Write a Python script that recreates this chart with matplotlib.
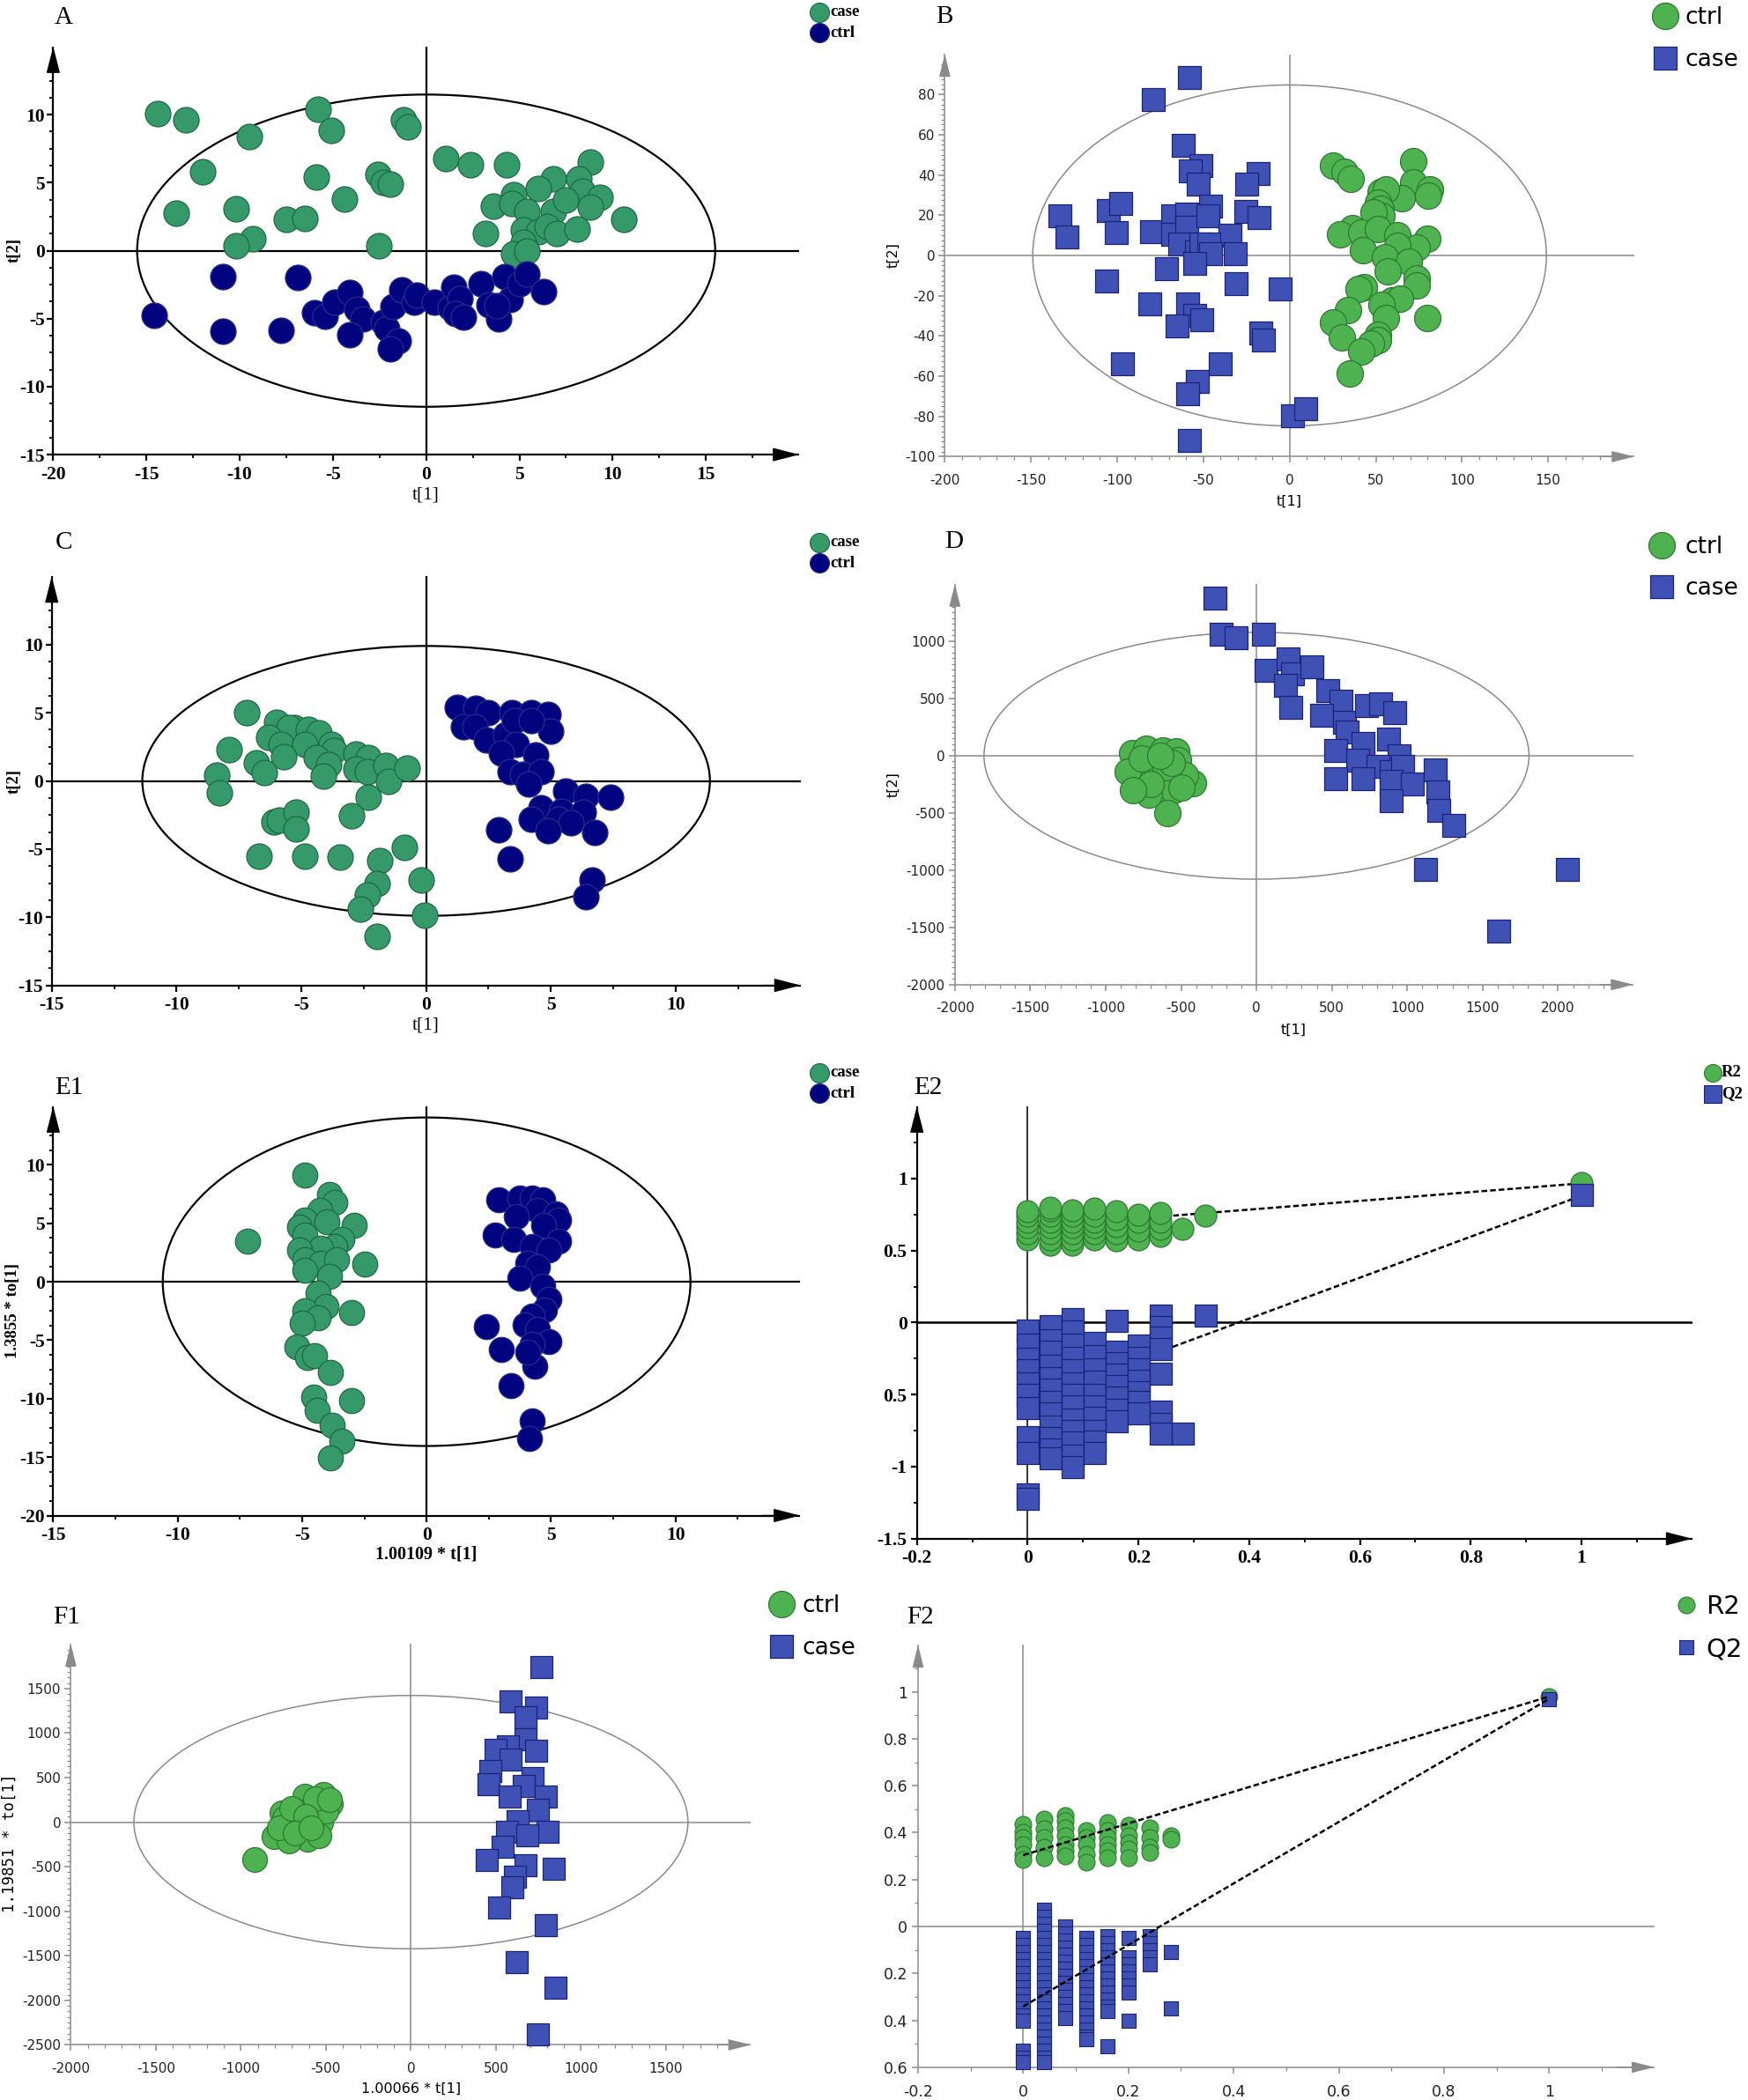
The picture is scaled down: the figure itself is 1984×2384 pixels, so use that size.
import numpy as np
import matplotlib
matplotlib.use("Agg")
import matplotlib.pyplot as plt
from matplotlib.patches import Ellipse
from matplotlib.ticker import FixedLocator

plt.rcParams['axes.unicode_minus'] = False

W, H, DPI = 1984, 2384, 100

# ---------------- data ----------------
# Panel A  (t[1], t[2])
A_case = [(-14.4, 10.05), (-12.9, 9.6), (-5.8, 10.4), (-5.1, 8.85), (-1.2, 9.6), (-1.0, 9.1),
          (-9.5, 8.4), (-12.0, 5.8), (-5.9, 5.4), (-2.6, 5.6), (-2.3, 5.0), (-1.9, 4.9),
          (-4.4, 3.8), (-13.4, 2.75), (-10.2, 3.1), (-7.5, 2.3), (-6.5, 2.4), (-9.3, 0.9),
          (-10.2, 0.35), (-2.55, 0.35), (1.05, 6.8), (2.4, 6.3), (4.3, 6.3), (8.8, 6.5),
          (6.8, 5.3), (6.0, 4.6), (8.2, 5.3), (8.4, 4.4), (9.3, 3.9), (10.6, 2.3), (3.6, 3.3),
          (4.7, 4.1), (4.6, 3.5), (5.4, 2.9), (6.8, 2.9), (7.5, 3.7), (8.8, 3.2), (3.2, 1.25),
          (5.2, 1.5), (6.0, 1.4), (6.5, 1.8), (7.0, 1.25), (8.1, 1.6), (5.2, 0.6), (4.7, -0.25),
          (5.4, 0.0)]
A_ctrl = [(-10.9, -1.9), (-6.9, -1.95), (-14.6, -4.75), (-10.9, -5.9), (-7.8, -5.85),
          (-6.0, -4.55), (-5.4, -4.8), (-4.9, -3.8), (-4.1, -3.1), (-3.7, -4.3), (-3.4, -5.0),
          (-4.1, -6.2), (-2.3, -5.3), (-2.1, -5.75), (-1.8, -4.1), (-1.5, -6.65), (-1.9, -7.2),
          (-1.3, -2.9), (-0.65, -3.8), (-0.5, -3.3), (0.45, -3.8), (1.3, -4.2), (1.5, -2.7),
          (1.8, -3.5), (1.55, -4.65), (2.0, -4.9), (2.95, -2.45), (3.35, -3.95), (3.9, -5.0),
          (4.2, -1.9), (4.5, -3.6), (5.0, -2.4), (5.4, -1.7), (6.3, -3.0), (3.8, -4.05)]

# Panel B
B_case = [(-58.3, 88.6), (-79, 77.4), (-61.6, 54.7), (-51.5, 44.5), (-57.4, 42), (-53, 35.4),
          (-18.5, 40.9), (-25, 35.4), (-133.5, 19.8), (-129, 9), (-105, 22.2), (-98, 26),
          (-100.6, 11.2), (-80, 12), (-68, 19.8), (-68, 10.4), (-59.6, 20.6), (-59.6, 14),
          (-46, 24.4), (-47.6, 19.8), (-25.6, 21.7), (-17.5, 19), (-34.7, 10.2), (-63.8, 5.8),
          (-54, 1.6), (-51.5, 5.8), (-46.7, 5.8), (-46, 0.8), (-54.8, -4.1), (-71.3, -6.6),
          (-31.4, 0.8), (-106, -12.9), (-30.8, -14), (-5.5, -16.5), (-81, -23.9), (-59, -23.9),
          (-54.8, -29.7), (-50.9, -32.1), (-65.5, -35.1), (-16.9, -38.7), (-15.2, -42),
          (-97.2, -54), (-40.2, -54), (-53.5, -62.6), (-59, -68.9), (1.9, -79.9), (9.1, -76.3),
          (-58.3, -91.8)]
B_ctrl = [(25.3, 44.5), (31.8, 41.5), (35.6, 37.9), (71.6, 46.9), (71.6, 36.2), (81.3, 32.9),
          (80.4, 29.7), (65.1, 28.3), (52.8, 31.3), (56.1, 32.6), (51.2, 26.4), (52.8, 23.1),
          (53.5, 19.8), (48.6, 21.4), (36.6, 13.5), (29.5, 10.7), (41.5, 11.5), (51.2, 13.2),
          (62.5, 9.9), (79.7, 8.2), (73.9, 4.1), (62.5, 4.9), (42.4, 2.5), (55.4, -0.8),
          (69, -3.3), (57, -7.9), (43.1, -15.7), (39.9, -16.5), (73.9, -11.5), (73.9, -14.8),
          (59.3, -22.2), (64.2, -21.4), (53.5, -24.7), (34, -27.2), (25.3, -33.3), (56.1, -31.3),
          (79.7, -31.3), (30.2, -40.9), (51.2, -39.5), (51.2, -42), (47, -43.7), (41.5, -47.8),
          (35, -58.5)]

# Panel C
C_case = [(-7.2, 5.0), (-7.9, 2.3), (-8.4, 0.4), (-8.3, -0.85), (-6.0, 4.3), (-5.3, 3.9),
          (-5.5, 3.9), (-4.7, 3.8), (-4.3, 3.5), (-6.3, 3.2), (-5.8, 2.7), (-4.85, 2.7),
          (-3.8, 2.7), (-3.7, 2.2), (-5.7, 1.8), (-6.8, 1.35), (-6.5, 0.6), (-4.4, 1.7),
          (-3.9, 1.2), (-4.1, 0.35), (-2.8, 1.95), (-2.3, 1.7), (-2.8, 0.85), (-2.35, 0.7),
          (-1.6, 1.1), (-1.5, 0.0), (-0.75, 0.95), (-2.3, -1.2), (-3.0, -2.55), (-6.1, -3.0),
          (-5.9, -2.9), (-5.2, -2.3), (-5.2, -3.5), (-6.7, -5.5), (-4.85, -5.5), (-3.45, -5.6),
          (-1.85, -5.85), (-0.87, -4.9), (-1.95, -7.55), (-2.35, -8.4), (-2.65, -9.4),
          (-0.2, -7.3), (-0.05, -9.85), (-1.95, -11.4)]
C_ctrl = [(1.25, 5.4), (2.0, 5.35), (2.5, 5.0), (3.45, 5.0), (4.2, 5.0), (4.9, 4.9), (5.0, 3.65),
          (1.5, 4.0), (1.95, 3.95), (2.4, 3.0), (3.2, 3.4), (3.55, 4.4), (4.2, 4.4), (3.6, 2.7),
          (3.0, 2.05), (4.4, 1.9), (3.35, 0.7), (3.85, 0.5), (4.6, 0.7), (4.1, -0.25),
          (5.6, -0.75), (6.4, -1.1), (7.4, -1.2), (4.6, -1.95), (5.4, -2.2), (6.3, -2.3),
          (4.2, -2.8), (5.3, -2.8), (5.8, -3.05), (6.75, -3.8), (4.9, -3.65), (2.9, -3.6),
          (3.35, -5.7), (6.65, -7.3), (6.4, -8.5)]

# Panel D
D_case = [(-278, 1375), (-233, 1062), (-133, 1033), (44, 1062), (63, 744), (211, 845),
          (237, 715), (367, 773), (193, 614), (230, 425), (470, 570), (563, 475), (433, 353),
          (581, 295), (730, 440), (822, 454), (915, 373), (600, 208), (704, 107), (878, 145),
          (526, 49), (674, -38), (944, 0), (804, -96), (896, -139), (970, -96), (526, -197),
          (704, -197), (896, -226), (1033, -246), (1185, -124), (1204, -313), (1211, -480),
          (896, -394), (1311, -608), (1119, -993), (2063, -993), (1607, -1534)]
D_ctrl = [(-826, 26), (-733, 64), (-622, 49), (-530, 35), (-519, -38), (-770, -81), (-659, -67),
          (-548, -139), (-807, -226), (-696, -197), (-659, -153), (-585, -226), (-419, -240),
          (-770, -284), (-659, -298), (-548, -298), (-474, -168), (-593, -501), (-715, -342),
          (-852, -139), (-600, -100), (-700, -250), (-560, -60), (-760, -20), (-640, 0),
          (-500, -280), (-820, -300)]

# Panel E1 (1.00109*t[1], 1.3855*to[1])
E1_case = [(-4.9, 9.1), (-7.2, 3.5), (-3.9, 7.5), (-3.7, 6.8), (-4.3, 6.1), (-4.9, 5.3),
           (-4.0, 5.1), (-5.1, 4.7), (-4.9, 4.0), (-2.9, 4.8), (-3.4, 3.6), (-3.7, 3.0),
           (-4.25, 2.9), (-5.1, 2.7), (-4.9, 1.9), (-4.25, 1.6), (-3.6, 1.9), (-2.5, 1.5),
           (-4.9, 1.0), (-3.9, 0.45), (-4.35, -0.95), (-4.05, -2.1), (-4.9, -2.5), (-4.35, -3.1),
           (-5.0, -3.5), (-3.0, -2.65), (-5.2, -5.6), (-4.8, -6.5), (-4.5, -6.35), (-3.85, -7.75),
           (-4.55, -9.9), (-3.0, -10.2), (-4.4, -11.0), (-3.8, -12.3), (-3.4, -13.6),
           (-3.85, -15.1)]
E1_ctrl = [(2.9, 7.0), (3.75, 7.2), (4.25, 7.2), (4.65, 7.0), (4.45, 6.1), (5.2, 5.8), (5.3, 5.3),
           (3.6, 5.6), (4.7, 4.8), (2.75, 4.0), (3.5, 3.6), (4.25, 3.0), (5.3, 3.5), (4.9, 2.7),
           (4.05, 1.6), (4.45, 1.3), (3.75, 0.3), (4.65, -0.4), (4.9, -1.5), (4.75, -2.4),
           (4.25, -2.95), (3.95, -3.65), (2.4, -3.8), (4.45, -4.1), (4.9, -5.1), (4.25, -5.35),
           (3.0, -5.8), (3.4, -8.9), (4.35, -7.2), (4.25, -11.9), (4.15, -13.4), (4.05, -6.05)]

# Panel E2 permutation test: {x: [values]}
E2_R2 = {0.00: [0.58, 0.62, 0.66, 0.70, 0.74, 0.77],
         0.04: [0.54, 0.58, 0.62, 0.66, 0.70, 0.74, 0.78, 0.80],
         0.08: [0.54, 0.58, 0.62, 0.66, 0.70, 0.74, 0.78],
         0.12: [0.58, 0.62, 0.66, 0.70, 0.74, 0.79],
         0.16: [0.57, 0.62, 0.67, 0.72, 0.77],
         0.20: [0.58, 0.64, 0.70, 0.75],
         0.24: [0.60, 0.65, 0.70, 0.76],
         0.28: [0.65],
         0.32: [0.74],
         1.00: [0.97]}
E2_Q2 = {0.00: [-0.055, -0.15, -0.25, -0.33, -0.42, -0.50, -0.59, -0.79, -0.90, -1.19, -1.22],
         0.04: [-0.025, -0.12, -0.20, -0.30, -0.38, -0.46, -0.55, -0.63, -0.72, -0.80, -0.88, -0.94],
         0.08: [0.025, -0.06, -0.15, -0.24, -0.33, -0.42, -0.50, -0.58, -0.67, -0.75, -0.83, -0.92, -1.00],
         0.12: [-0.14, -0.23, -0.32, -0.41, -0.50, -0.58, -0.66, -0.75, -0.82, -0.90],
         0.16: [0.015, -0.20, -0.28, -0.36, -0.44, -0.52, -0.60, -0.68],
         0.20: [-0.155, -0.24, -0.32, -0.40, -0.48, -0.55, -0.63],
         0.24: [0.05, -0.03, -0.10, -0.18, -0.353, -0.615, -0.70, -0.767],
         0.28: [-0.767],
         0.32: [0.05],
         1.00: [0.89]}
E2_R2_line = [0.662, 0.966]   # fitted line at x=0 and x=1
E2_Q2_line = [-0.541, 0.880]

# Panel F1 (1.00066*t[1], 1.19851*to[1])
F1_ctrl = [(-919, -422), (-624, 294), (-517, 313), (-471, 200), (-563, 200), (-761, 105),
           (-715, 11), (-806, -158), (-654, -45), (-593, 87), (-532, -8), (-608, -196),
           (-715, -215), (-745, 49), (-502, 124), (-669, 124), (-776, -64), (-700, 150),
           (-560, 260), (-620, 60), (-680, -120), (-540, -150), (-480, 250), (-590, -60)]
F1_case = [(767, 1744), (584, 1356), (736, 1292), (669, 1179), (669, 934), (569, 859), (496, 821),
           (736, 802), (584, 708), (462, 576), (456, 426), (715, 501), (660, 407), (578, 294),
           (791, 294), (745, 143), (624, 11), (800, -102), (563, -102), (684, -139), (539, -271),
           (441, -422), (669, -478), (837, -516), (608, -610), (593, -723), (517, -949),
           (791, -1156), (618, -1563), (846, -1853), (745, -2380)]

# Panel F2 permutation test
F2_R2 = {0.00: [0.437, 0.401, 0.380, 0.351, 0.309, 0.287],
         0.04: [0.458, 0.415, 0.380, 0.337, 0.294],
         0.08: [0.472, 0.451, 0.422, 0.387, 0.351, 0.323, 0.302],
         0.12: [0.408, 0.380, 0.351, 0.309, 0.273],
         0.16: [0.444, 0.408, 0.380, 0.351, 0.323, 0.294],
         0.20: [0.430, 0.387, 0.358, 0.330, 0.294],
         0.24: [0.422, 0.380, 0.337, 0.316],
         0.28: [0.387, 0.373],
         1.00: [0.98]}
F2_Q2 = {0.00: [-0.05, -0.08, -0.11, -0.14, -0.17, -0.20, -0.23, -0.26, -0.29, -0.32, -0.35,
                -0.38, -0.40, -0.53, -0.56, -0.58],
         0.04: [0.07, 0.04, 0.01, -0.02, -0.05, -0.08, -0.11, -0.14, -0.17, -0.20, -0.23, -0.26,
                -0.29, -0.32, -0.35, -0.38, -0.41, -0.44, -0.47, -0.50, -0.53, -0.56, -0.58],
         0.08: [0.00, -0.03, -0.06, -0.09, -0.12, -0.15, -0.18, -0.21, -0.24, -0.27, -0.30,
                -0.33, -0.36, -0.39],
         0.12: [-0.05, -0.08, -0.11, -0.14, -0.17, -0.20, -0.23, -0.26, -0.29, -0.32, -0.35,
                -0.38, -0.41, -0.44, -0.47, -0.48],
         0.16: [-0.04, -0.07, -0.10, -0.13, -0.16, -0.19, -0.22, -0.25, -0.28, -0.31, -0.34,
                -0.36, -0.51],
         0.20: [-0.05, -0.13, -0.16, -0.19, -0.22, -0.25, -0.28, -0.40],
         0.24: [-0.04, -0.07, -0.10, -0.13, -0.16],
         0.28: [-0.11, -0.35],
         1.00: [0.97]}
F2_R2_line = [0.304, 0.980]
F2_Q2_line = [-0.341, 0.970]

# tick labels
E2_ylabels = ['-1.5', '-1', '0.5', '0', '0.5', '1']
F2_ylabels = ['0.6', '0.4', '0.2', '0', '0.2', '0.4', '0.6', '0.8', '1']

# ---------------- styling ----------------
GREEN_A, GREEN_A_EDGE = '#35996a', '#1d6a43'
NAVY, NAVY_EDGE = '#02037f', '#262a8c'
GREEN_S, GREEN_S_EDGE = '#4db24f', '#2c7a30'
BLUE_S, BLUE_S_EDGE = '#3f51b5', '#1b2378'
GRAY = '#8a8a8a'
SERIF = ['Liberation Serif', 'DejaVu Serif']
SANS = ['DejaVu Sans']

fig = plt.figure(figsize=(W / DPI, H / DPI), dpi=DPI)
fig.patch.set_facecolor('white')


def make_axes(left, right, top, bottom, xlim, ylim):
    ax = fig.add_axes([left / W, 1 - bottom / H, (right - left) / W, (bottom - top) / H])
    ax.set_xlim(*xlim)
    ax.set_ylim(*ylim)
    ax.patch.set_alpha(0)
    return ax


def fmt(v):
    return '%g' % v


def style(ax, dark, xmaj, xmin, ymaj, ymin, fontfam, fsize, weight, xpad, ypad,
          xlabels=None, ylabels=None):
    color = 'black' if dark else GRAY
    lw = 1.6 if dark else 1.1
    for s in ['top', 'right']:
        ax.spines[s].set_visible(False)
    for s in ['left', 'bottom']:
        ax.spines[s].set_color(color)
        ax.spines[s].set_linewidth(lw)
        ax.spines[s].set_capstyle('butt')
    ax.xaxis.set_major_locator(FixedLocator(xmaj))
    ax.yaxis.set_major_locator(FixedLocator(ymaj))
    ax.xaxis.set_minor_locator(FixedLocator(xmin))
    ax.yaxis.set_minor_locator(FixedLocator(ymin))
    ax.set_xticklabels(xlabels if xlabels is not None else [fmt(v) for v in xmaj])
    ax.set_yticklabels(ylabels if ylabels is not None else [fmt(v) for v in ymaj])
    ax.tick_params(which='major', direction='out', length=5, width=lw, color=color)
    ax.tick_params(which='minor', direction='out', length=3, width=lw * 0.8, color=color)
    ax.tick_params(axis='x', pad=xpad)
    ax.tick_params(axis='y', pad=ypad)
    for lbl in ax.get_xticklabels() + ax.get_yticklabels():
        lbl.set_fontfamily(fontfam)
        lbl.set_fontsize(fsize)
        lbl.set_fontweight(weight)
        lbl.set_color('black' if dark else '#222222')
    hl = 19 if dark else 16
    hw = 4.9 if dark else 4.0
    for xy, xyt in [((1, 0), (0.95, 0)), ((0, 1), (0, 0.95))]:
        ax.annotate('', xy=xy, xytext=xyt, xycoords='axes fraction',
                    textcoords='axes fraction', annotation_clip=False,
                    arrowprops=dict(arrowstyle='-|>,head_length=%g,head_width=%g' % (hl, hw),
                                    color=color, lw=1.0, shrinkA=0, shrinkB=0,
                                    mutation_scale=1))


def guides(ax, dark, ew, eh):
    color = 'black' if dark else GRAY
    lw = 1.6 if dark else 1.1
    ax.axhline(0, color=color, lw=lw, zorder=1)
    ax.axvline(0, color=color, lw=lw, zorder=1)
    ax.add_patch(Ellipse((0, 0), ew, eh, fill=False, ec=color, lw=lw, zorder=1.5))


def pts(ax, data, s, fc, ec, marker='o', lw=0.9, z=3):
    xs = [p[0] for p in data]
    ys = [p[1] for p in data]
    ax.scatter(xs, ys, s=s, c=fc, edgecolors=ec, linewidths=lw, marker=marker,
               zorder=z, clip_on=False)


def colpts(ax, dct, s, fc, ec, marker, lw=0.9, z=3):
    xs, ys = [], []
    for k, vals in dct.items():
        for v in vals:
            xs.append(k)
            ys.append(v)
    ax.scatter(xs, ys, s=s, c=fc, edgecolors=ec, linewidths=lw, marker=marker,
               zorder=z, clip_on=False)


# overlay axes for free text / legends (pixel coordinates)
ov = fig.add_axes([0, 0, 1, 1])
ov.set_xlim(0, W)
ov.set_ylim(H, 0)
ov.axis('off')
ov.set_zorder(10)


def txt(x, y, s, **kw):
    ov.text(x, y, s, **kw)


def leg_dark(y1, labels, colors, edges, x=930, s=250, fs=13.5):
    for yy, lab, c, e in zip([y1, y1 + 23], labels, colors, edges):
        ov.scatter([x], [yy], s=s, c=c, edgecolors=e, linewidths=0.8, marker='o', clip_on=False)
        txt(x + 12, yy, lab, fontfamily=SERIF, fontweight='bold', fontsize=fs,
            ha='left', va='center')


def leg_simca(x, y1, y2, labels, tx, s1=467, s2=350, fs=19):
    ov.scatter([x], [y1], s=s1, c=GREEN_S, edgecolors=GREEN_S_EDGE, linewidths=0.9,
               marker='o', clip_on=False)
    ov.scatter([x], [y2], s=s2, c=BLUE_S, edgecolors=BLUE_S_EDGE, linewidths=0.9,
               marker='s', clip_on=False)
    txt(tx, y1 + 2, labels[0], fontfamily=SANS, fontsize=fs, ha='left', va='center')
    txt(tx, y2 + 2, labels[1], fontfamily=SANS, fontsize=fs, ha='left', va='center')


def panel_label(x, y, s):
    txt(x, y, s, fontfamily=SERIF, fontsize=21, ha='left', va='center')


DARK_FS = 15.5

# ---------------- Panel A ----------------
ax = make_axes(60.4, 907, 53, 516.1, (-20, 20), (-15, 15))
style(ax, True, list(range(-20, 16, 5)), np.arange(-17.5, 20, 2.5),
      list(range(-15, 11, 5)), np.arange(-15, 15, 1.25), SERIF, DARK_FS, 'bold', 4, 2)
guides(ax, True, 31.0, 22.96)
pts(ax, A_case, 436, GREEN_A, GREEN_A_EDGE)
pts(ax, A_ctrl, 436, NAVY, NAVY_EDGE)
panel_label(62, 20, 'A')
leg_dark(14, ['case', 'ctrl'], [GREEN_A, NAVY], [GREEN_A_EDGE, NAVY_EDGE])
txt(483, 562, 't[1]', fontfamily=SERIF, fontsize=15.5, ha='center', va='center')
txt(16, 284, 't[2]', fontfamily=SERIF, fontsize=13.5, fontweight='bold', rotation=90,
    ha='center', va='center')

# ---------------- Panel B ----------------
ax = make_axes(1072.4, 1855, 61.5, 518.4, (-200, 200), (-100, 100))
style(ax, False, list(range(-200, 151, 50)), np.arange(-200, 200, 10),
      list(range(-100, 81, 20)), np.arange(-100, 96, 2.5), SANS, 11, 'normal', 9, 3)
guides(ax, False, 298, 169.4)
pts(ax, B_ctrl, 467, GREEN_S, GREEN_S_EDGE)
pts(ax, B_case, 350, BLUE_S, BLUE_S_EDGE, marker='s')
panel_label(1062, 19, 'B')
leg_simca(1890, 18, 66, ['ctrl', 'case'], 1912)
txt(1463.5, 569, 't[1]', fontfamily=SANS, fontsize=11.5, ha='center', va='center')
txt(1014, 290, 't[2]', fontfamily=SANS, fontsize=11.5, rotation=90, ha='center', va='center')

# ---------------- Panel C ----------------
ax = make_axes(58.7, 908.6, 654.4, 1118.6, (-15, 15), (-15, 15))
style(ax, True, list(range(-15, 11, 5)), np.arange(-12.5, 15, 2.5),
      list(range(-15, 11, 5)), np.arange(-15, 15, 1.25), SERIF, DARK_FS, 'bold', 4, 2)
guides(ax, True, 22.74, 19.8)
pts(ax, C_case, 436, GREEN_A, GREEN_A_EDGE)
pts(ax, C_ctrl, 436, NAVY, NAVY_EDGE)
panel_label(63, 616, 'C')
leg_dark(616, ['case', 'ctrl'], [GREEN_A, NAVY], [GREEN_A_EDGE, NAVY_EDGE])
txt(483, 1164, 't[1]', fontfamily=SERIF, fontsize=15.5, ha='center', va='center')
txt(16, 887, 't[2]', fontfamily=SERIF, fontsize=13.5, fontweight='bold', rotation=90,
    ha='center', va='center')

# ---------------- Panel D ----------------
ax = make_axes(1083.8, 1854, 663, 1117.8, (-2000, 2500), (-2000, 1500))
style(ax, False, list(range(-2000, 2001, 500)), np.arange(-2000, 2500, 100),
      list(range(-2000, 1001, 500)), np.arange(-2000, 1301, 50), SANS, 11, 'normal', 9, 3)
guides(ax, False, 3614, 2157)
pts(ax, D_ctrl, 467, GREEN_S, GREEN_S_EDGE)
pts(ax, D_case, 330, BLUE_S, BLUE_S_EDGE, marker='s')
panel_label(1072, 615, 'D')
leg_simca(1886, 619, 666, ['ctrl', 'case'], 1912)
txt(1468.6, 1169, 't[1]', fontfamily=SANS, fontsize=11.5, ha='center', va='center')
txt(1014, 891, 't[2]', fontfamily=SANS, fontsize=11.5, rotation=90, ha='center', va='center')

# ---------------- Panel E1 ----------------
ax = make_axes(60.4, 908, 1256, 1720.5, (-15, 15), (-20, 15))
style(ax, True, list(range(-15, 11, 5)), np.arange(-12.5, 15, 2.5),
      list(range(-20, 11, 5)), np.arange(-20, 15, 1.25), SERIF, DARK_FS, 'bold', 4, 2)
guides(ax, True, 21.2, 28.1)
pts(ax, E1_case, 420, GREEN_A, GREEN_A_EDGE)
pts(ax, E1_ctrl, 420, NAVY, NAVY_EDGE)
panel_label(62, 1235, 'E1')
leg_dark(1218, ['case', 'ctrl'], [GREEN_A, NAVY], [GREEN_A_EDGE, NAVY_EDGE])
txt(484, 1764, '1.00109 * t[1]', fontfamily=SERIF, fontsize=14.5, fontweight='bold',
    ha='center', va='center')
txt(15, 1488, '1.3855 * to[1]', fontfamily=SERIF, fontsize=13.5, fontweight='bold',
    rotation=90, ha='center', va='center')

# ---------------- Panel E2 ----------------
ax = make_axes(1040.7, 1920.7, 1256, 1746.8, (-0.2, 1.2), (-1.5, 1.5))
style(ax, True, [-0.2, 0, 0.2, 0.4, 0.6, 0.8, 1.0], np.arange(-0.1, 1.15, 0.1),
      [-1.5, -1, -0.5, 0, 0.5, 1], np.arange(-1.5, 1.5, 0.25), SERIF, DARK_FS, 'bold', 4, 3,
      ylabels=E2_ylabels)
ax.axhline(0, color='black', lw=1.8, zorder=1)
ax.axvline(0, color='black', lw=1.1, zorder=1)
ax.plot([0, 1], E2_R2_line, ls=(0, (2.6, 1.3)), color='black', lw=1.8, zorder=1.5)
ax.plot([0, 1], E2_Q2_line, ls=(0, (2.6, 1.3)), color='black', lw=1.8, zorder=1.5)
colpts(ax, E2_R2, 324, GREEN_S, GREEN_S_EDGE, 'o', lw=0.9)
colpts(ax, E2_Q2, 324, BLUE_S, BLUE_S_EDGE, 's', lw=0.9, z=4)
panel_label(1037, 1235, 'E2')
ov.scatter([1944], [1218], s=207, c=GREEN_S, edgecolors=GREEN_S_EDGE, linewidths=0.8,
           marker='o', clip_on=False)
ov.scatter([1944], [1242], s=207, c=BLUE_S, edgecolors=BLUE_S_EDGE, linewidths=0.8,
           marker='s', clip_on=False)
txt(1954, 1218, 'R2', fontfamily=SERIF, fontweight='bold', fontsize=13.5, ha='left', va='center')
txt(1954, 1242, 'Q2', fontfamily=SERIF, fontweight='bold', fontsize=13.5, ha='left', va='center')

# ---------------- Panel F1 ----------------
ax = make_axes(80.4, 852.4, 1866.3, 2321.4, (-2000, 2000), (-2500, 2000))
style(ax, False, list(range(-2000, 1501, 500)), np.arange(-2000, 2000, 100),
      list(range(-2500, 1501, 500)), np.arange(-2500, 1950, 62.5), SANS, 11, 'normal', 9, 3)
guides(ax, False, 3258, 2844)
pts(ax, F1_ctrl, 406, GREEN_S, GREEN_S_EDGE)
pts(ax, F1_case, 324, BLUE_S, BLUE_S_EDGE, marker='s')
panel_label(60, 1836, 'F1')
leg_simca(887, 1821, 1869, ['ctrl', 'case'], 910)
txt(466.5, 2371, '1.00066 * t[1]', fontfamily=SANS, fontsize=11.5, ha='center', va='center')
txt(11, 2092, '1.19851 * to[1]', fontfamily=['DejaVu Sans Mono', 'DejaVu Sans'], fontsize=12.5,
    rotation=90, ha='center', va='center')

# ---------------- Panel F2 ----------------
ax = make_axes(1042, 1877.7, 1867.4, 2346.8, (-0.2, 1.2), (-0.6, 1.2))
style(ax, False, [-0.2, 0, 0.2, 0.4, 0.6, 0.8, 1.0], np.arange(-0.1, 1.15, 0.1),
      [-0.6, -0.4, -0.2, 0, 0.2, 0.4, 0.6, 0.8, 1.0], np.arange(-0.5, 1.15, 0.1),
      SANS, 12.5, 'normal', 9, 3.5, ylabels=F2_ylabels)
ax.axhline(0, color=GRAY, lw=1.1, zorder=1)
ax.axvline(0, color=GRAY, lw=1.1, zorder=1)
colpts(ax, F2_R2, 187, GREEN_S, GREEN_S_EDGE, 'o', lw=0.8)
colpts(ax, F2_Q2, 117, BLUE_S, BLUE_S_EDGE, 's', lw=0.8, z=4)
ax.plot([0, 1], F2_R2_line, ls=(0, (2.6, 1.3)), color='black', lw=1.8, zorder=5)
ax.plot([0, 1], F2_Q2_line, ls=(0, (2.6, 1.3)), color='black', lw=1.8, zorder=5)
panel_label(1029, 1836, 'F2')
ov.scatter([1914], [1822], s=187, c=GREEN_S, edgecolors=GREEN_S_EDGE, linewidths=0.8,
           marker='o', clip_on=False)
ov.scatter([1914], [1870], s=130, c=BLUE_S, edgecolors=BLUE_S_EDGE, linewidths=0.8,
           marker='s', clip_on=False)
txt(1936, 1824, 'R2', fontfamily=SANS, fontsize=21, ha='left', va='center')
txt(1936, 1872, 'Q2', fontfamily=SANS, fontsize=21, ha='left', va='center')

fig.savefig('out.png', dpi=DPI, facecolor='white')
